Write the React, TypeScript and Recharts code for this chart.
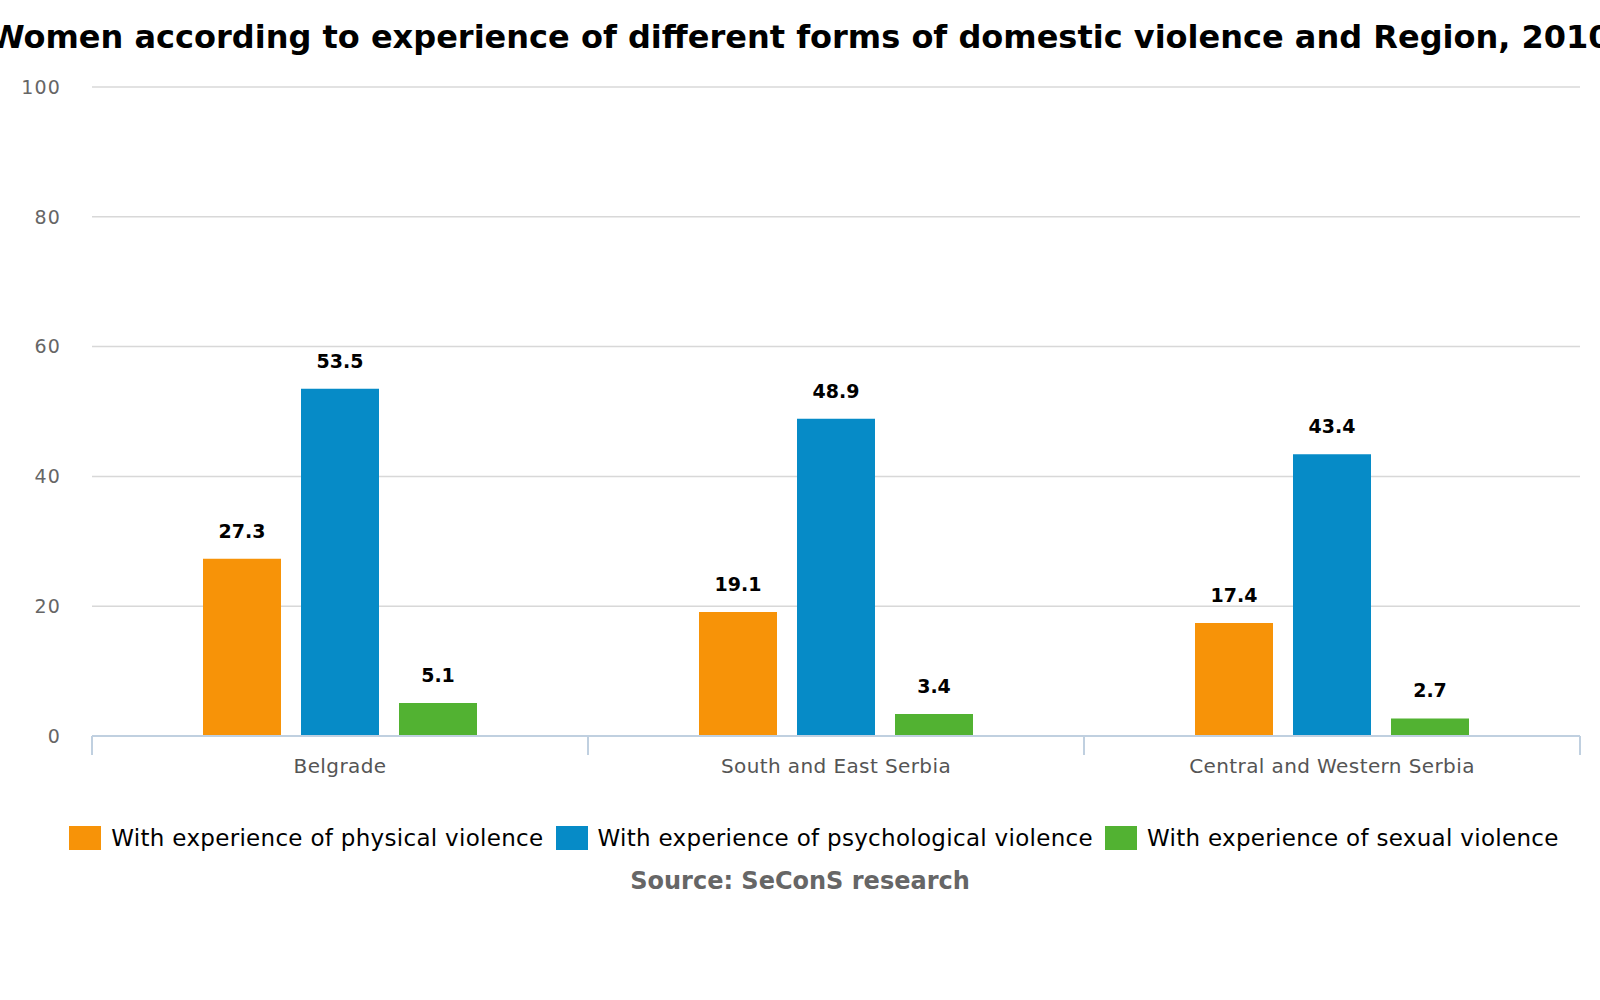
import React from "react";
import { BarChart, Bar, XAxis, YAxis, CartesianGrid, LabelList, Legend } from "recharts";

const categories = ["Belgrade", "South and East Serbia", "Central and Western Serbia"];
const physical = [27.3, 19.1, 17.4];
const psychological = [53.5, 48.9, 43.4];
const sexual = [5.1, 3.4, 2.7];
const yTicks = [0, 20, 40, 60, 80, 100];

const seriesNames = {
  physical: "With experience of physical violence",
  psychological: "With experience of psychological violence",
  sexual: "With experience of sexual violence",
};

const data = categories.map((c, i) => ({
  name: c,
  physical: physical[i],
  psychological: psychological[i],
  sexual: sexual[i],
}));

const FONT = "'DejaVu Sans', Verdana, sans-serif";
const W = 1600;
const H = 1000;
const PLOT_LEFT = 92;
const PLOT_RIGHT = 1580;
const PLOT_TOP = 87;
const PLOT_BOTTOM = 736;
const XAXIS_H = 30;
const BAND = (PLOT_RIGHT - PLOT_LEFT) / categories.length;

const XTick = (props: any) => {
  const { x, payload, index } = props;
  const axisY = PLOT_BOTTOM;
  return (
    <g>
      <line x1={x - BAND / 2} x2={x - BAND / 2} y1={axisY} y2={axisY + 19} stroke="#c0d0e0" strokeWidth={2} />
      {index === categories.length - 1 && (
        <line x1={x + BAND / 2} x2={x + BAND / 2} y1={axisY} y2={axisY + 19} stroke="#c0d0e0" strokeWidth={2} />
      )}
      <text
        x={x}
        y={axisY + 30}
        textAnchor="middle"
        dominantBaseline="central"
        fill="#555"
        fontSize={20}
        letterSpacing={0.4}
        fontFamily={FONT}
      >
        {payload.value}
      </text>
    </g>
  );
};

const LegendContent = (props: any) => {
  const { payload } = props;
  return (
    <div
      style={{
        display: "flex",
        justifyContent: "center",
        alignItems: "center",
        width: W,
        fontFamily: FONT,
        transform: "translateX(14px)",
      }}
    >
      {payload.map((p: any, i: number) => (
        <div
          key={p.value}
          style={{ display: "flex", alignItems: "center", marginRight: i === payload.length - 1 ? 0 : 12 }}
        >
          <div style={{ width: 32, height: 24, background: p.color, marginRight: 10 }} />
          <span style={{ fontSize: 23, letterSpacing: 0.3, color: "#000", whiteSpace: "nowrap" }}>{p.value}</span>
        </div>
      ))}
    </div>
  );
};

export default function App() {
  return (
    <div style={{ position: "absolute", left: 0, top: 0, width: W, height: H, background: "#fff", overflow: "hidden", fontFamily: FONT }}>
      <div
        style={{
          position: "absolute",
          left: -300,
          width: W + 600,
          top: 16,
          textAlign: "center",
          fontSize: 32,
          fontWeight: "bold",
          color: "#000",
          whiteSpace: "nowrap",
          lineHeight: "42px",
        }}
      >
        Women according to experience of different forms of domestic violence and Region, 2010
      </div>
      <BarChart
        width={W}
        height={H}
        data={data}
        margin={{ top: PLOT_TOP, right: W - PLOT_RIGHT, bottom: H - PLOT_BOTTOM - XAXIS_H, left: 0 }}
        barSize={78}
        barGap={20}
      >
        <CartesianGrid vertical={false} stroke="#d8d8d8" strokeWidth={1.5} />
        <YAxis
          width={PLOT_LEFT}
          domain={[0, 100]}
          ticks={yTicks}
          axisLine={false}
          tickLine={false}
          tickSize={0}
          tickMargin={31}
          tick={{ fill: "#666", fontSize: 19, letterSpacing: 1.2, fontFamily: FONT }}
        />
        <XAxis
          dataKey="name"
          height={XAXIS_H}
          axisLine={{ stroke: "#c0d0e0", strokeWidth: 2 }}
          tickLine={false}
          tick={<XTick />}
          interval={0}
        />
        <Legend
          layout="horizontal"
          verticalAlign="middle"
          align="center"
          wrapperStyle={{ position: "absolute", top: 825, left: 0, width: W }}
          content={<LegendContent />}
        />
        <Bar dataKey="physical" name={seriesNames.physical} fill="#F79308" isAnimationActive={false}>
          <LabelList dataKey="physical" position="top" offset={21} fill="#000" fontSize={19} fontWeight="bold" fontFamily={FONT} />
        </Bar>
        <Bar dataKey="psychological" name={seriesNames.psychological} fill="#068BC7" isAnimationActive={false}>
          <LabelList dataKey="psychological" position="top" offset={21} fill="#000" fontSize={19} fontWeight="bold" fontFamily={FONT} />
        </Bar>
        <Bar dataKey="sexual" name={seriesNames.sexual} fill="#52B232" isAnimationActive={false}>
          <LabelList dataKey="sexual" position="top" offset={21} fill="#000" fontSize={19} fontWeight="bold" fontFamily={FONT} />
        </Bar>
      </BarChart>
      <div
        style={{
          position: "absolute",
          left: 0,
          width: W,
          top: 865,
          textAlign: "center",
          fontSize: 24,
          fontWeight: "bold",
          color: "#666",
          lineHeight: "32px",
        }}
      >
        Source: SeConS research
      </div>
    </div>
  );
}
